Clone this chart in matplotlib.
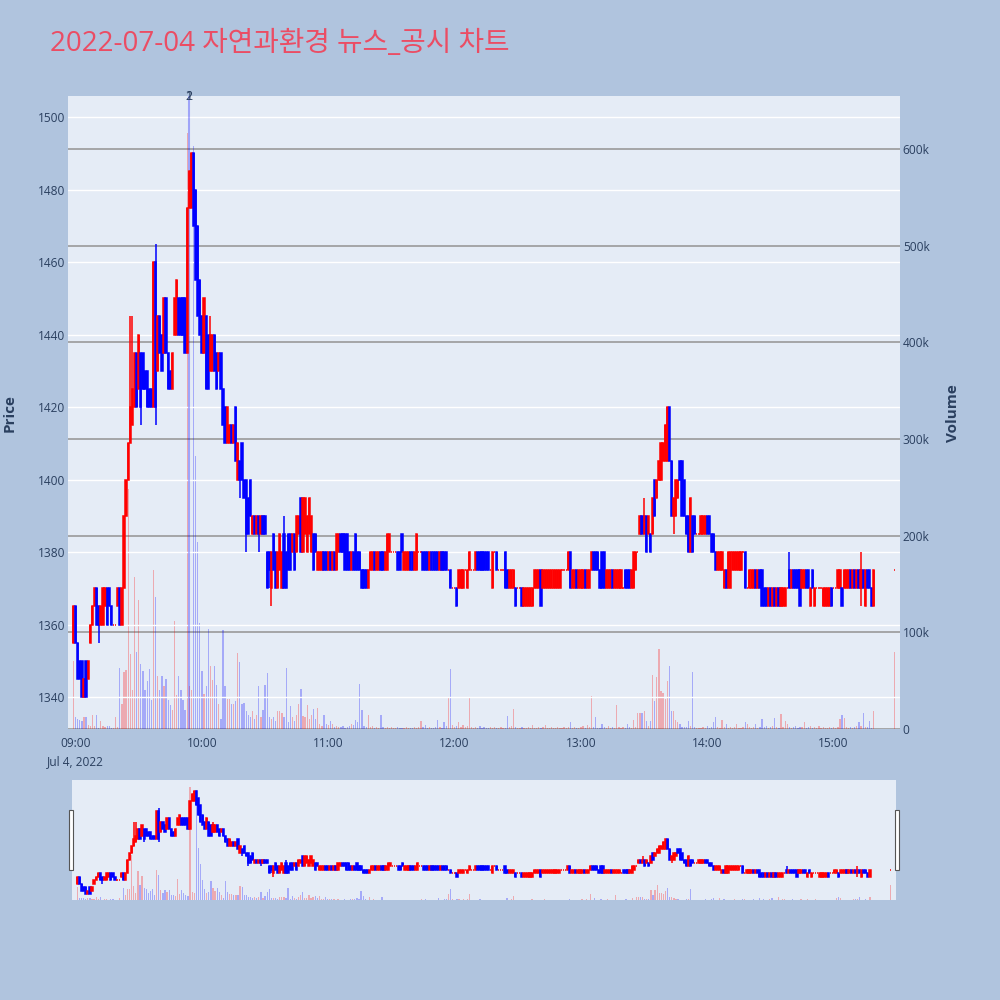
import matplotlib
matplotlib.use('Agg')
import matplotlib.pyplot as plt
from matplotlib.patches import Rectangle

plt.rcParams['font.family'] = ['Open Sans', 'Noto Sans CJK KR', 'DejaVu Sans']

BG = '#B0C4DE'
PLOT_BG = '#E5ECF6'
TXT = '#2a3f5f'
UP = '#FF0000'
DOWN = '#0000FF'

title = '2022-07-04 자연과환경 뉴스_공시 차트'

# 1-minute candles, first bar plotted at 08:59 (minute -1), last continuous bar 15:19
opens = [
    1355, 1365, 1355, 1350, 1350, 1340, 1350, 1345, 1355, 1360,  # 0
    1365, 1370, 1365, 1360, 1360, 1365, 1370, 1370, 1365, 1360,
    1360, 1365, 1370, 1360, 1370, 1390, 1400, 1410, 1415, 1420,
    1435, 1425, 1435, 1435, 1430, 1430, 1425, 1425, 1420, 1460,
    1430, 1445, 1440, 1435, 1450, 1435, 1430, 1425, 1440, 1440,
    1450, 1450, 1450, 1450, 1435, 1475, 1475, 1490, 1480, 1470,  # 50
    1455, 1445, 1435, 1445, 1440, 1430, 1430, 1440, 1435, 1430,
    1435, 1425, 1420, 1410, 1410, 1415, 1410, 1420, 1400, 1405,
    1410, 1400, 1400, 1395, 1400, 1385, 1390, 1385, 1390, 1385,
    1390, 1390, 1380, 1380, 1370, 1385, 1380, 1370, 1375, 1370,
    1385, 1380, 1385, 1385, 1380, 1385, 1380, 1385, 1395, 1380,  # 100
    1385, 1380, 1385, 1380, 1385, 1385, 1375, 1375, 1375, 1380,
    1380, 1375, 1380, 1375, 1380, 1375, 1380, 1385, 1385, 1385,
    1385, 1380, 1375, 1380, 1385, 1380, 1380, 1375, 1375, 1375,
    1370, 1375, 1375, 1380, 1375, 1375, 1380, 1380, 1375, 1375,
    1380, 1380, 1380, 1380, 1380, 1380, 1385, 1375, 1375, 1375,  # 150
    1380, 1380, 1375, 1375, 1380, 1380, 1380, 1380, 1380, 1375,
    1380, 1380, 1380, 1380, 1375, 1380, 1380, 1380, 1375, 1375,
    1370, 1370, 1370, 1370, 1370, 1370, 1375, 1370, 1375, 1375,
    1375, 1375, 1380, 1380, 1380, 1380, 1380, 1380, 1375, 1370,
    1380, 1380, 1375, 1375, 1375, 1380, 1375, 1370, 1370, 1370,  # 200
    1370, 1370, 1370, 1370, 1365, 1365, 1365, 1365, 1365, 1370,
    1370, 1370, 1375, 1370, 1370, 1370, 1370, 1370, 1370, 1370,
    1370, 1370, 1375, 1375, 1375, 1375, 1380, 1370, 1370, 1375,
    1370, 1370, 1370, 1375, 1370, 1370, 1375, 1380, 1380, 1380,
    1375, 1380, 1380, 1370, 1370, 1370, 1375, 1370, 1370, 1370,  # 250
    1370, 1370, 1375, 1375, 1375, 1370, 1370, 1375, 1380, 1385,
    1390, 1385, 1390, 1385, 1385, 1385, 1400, 1395, 1400, 1400,
    1405, 1405, 1405, 1420, 1405, 1390, 1390, 1395, 1405, 1405,
    1400, 1390, 1390, 1380, 1390, 1390, 1385, 1385, 1385, 1385,
    1385, 1390, 1390, 1385, 1385, 1380, 1375, 1375, 1375, 1370,  # 300
    1375, 1370, 1370, 1375, 1375, 1375, 1375, 1375, 1380, 1380,
    1370, 1370, 1370, 1370, 1375, 1370, 1375, 1375, 1370, 1370,
    1365, 1370, 1365, 1370, 1365, 1370, 1365, 1365, 1365, 1370,
    1375, 1370, 1375, 1375, 1375, 1375, 1370, 1370, 1375, 1375,
    1365, 1375, 1365, 1370, 1370, 1370, 1365, 1365, 1365, 1365,  # 350
    1370, 1370, 1370, 1370, 1370, 1370, 1370, 1370, 1370, 1375,
    1370, 1375, 1370, 1375, 1370, 1375, 1365, 1375, 1375, 1370, 1365,
]
closes = [
    1365, 1355, 1345, 1345, 1340, 1345, 1340, 1350, 1360, 1365,  # 0
    1370, 1360, 1360, 1365, 1370, 1370, 1360, 1365, 1360, 1360,
    1360, 1370, 1360, 1370, 1390, 1400, 1410, 1420, 1425, 1435,
    1420, 1440, 1420, 1425, 1425, 1420, 1420, 1420, 1460, 1420,
    1445, 1435, 1430, 1450, 1435, 1425, 1425, 1435, 1450, 1455,
    1440, 1440, 1440, 1435, 1475, 1485, 1490, 1470, 1455, 1445,  # 50
    1440, 1435, 1450, 1425, 1425, 1440, 1440, 1430, 1425, 1435,
    1425, 1415, 1410, 1420, 1415, 1410, 1415, 1405, 1410, 1400,
    1400, 1395, 1385, 1385, 1390, 1390, 1385, 1390, 1385, 1390,
    1385, 1385, 1370, 1375, 1380, 1375, 1370, 1380, 1385, 1380,
    1370, 1370, 1375, 1375, 1385, 1375, 1390, 1390, 1380, 1395,  # 100
    1395, 1390, 1395, 1390, 1375, 1380, 1380, 1380, 1380, 1375,
    1375, 1380, 1375, 1380, 1375, 1385, 1385, 1380, 1380, 1375,
    1375, 1375, 1380, 1375, 1375, 1375, 1375, 1370, 1370, 1370,
    1375, 1380, 1380, 1375, 1380, 1380, 1375, 1375, 1380, 1385,
    1385, 1380, 1380, 1380, 1375, 1375, 1380, 1380, 1380, 1380,  # 150
    1375, 1375, 1380, 1385, 1380, 1380, 1375, 1375, 1375, 1380,
    1375, 1375, 1375, 1375, 1380, 1375, 1375, 1375, 1375, 1370,
    1370, 1370, 1365, 1375, 1375, 1375, 1375, 1375, 1380, 1375,
    1375, 1380, 1375, 1375, 1375, 1375, 1375, 1375, 1375, 1380,
    1380, 1375, 1375, 1375, 1375, 1370, 1370, 1375, 1375, 1375,  # 200
    1365, 1370, 1370, 1365, 1370, 1370, 1370, 1370, 1370, 1375,
    1375, 1375, 1365, 1375, 1375, 1375, 1375, 1375, 1375, 1375,
    1375, 1375, 1375, 1375, 1375, 1380, 1370, 1375, 1375, 1370,
    1375, 1375, 1375, 1370, 1375, 1375, 1380, 1375, 1375, 1375,
    1370, 1370, 1370, 1375, 1375, 1375, 1370, 1375, 1375, 1375,  # 250
    1375, 1370, 1370, 1370, 1370, 1375, 1380, 1380, 1380, 1390,
    1385, 1390, 1380, 1390, 1380, 1395, 1390, 1400, 1405, 1410,
    1410, 1415, 1420, 1405, 1390, 1395, 1400, 1400, 1400, 1390,
    1390, 1385, 1380, 1395, 1380, 1385, 1385, 1385, 1390, 1390,
    1390, 1385, 1385, 1380, 1380, 1375, 1380, 1380, 1380, 1375,  # 300
    1370, 1380, 1380, 1380, 1380, 1380, 1380, 1380, 1380, 1370,
    1370, 1375, 1375, 1375, 1370, 1375, 1370, 1365, 1365, 1365,
    1370, 1365, 1370, 1365, 1370, 1365, 1370, 1370, 1370, 1370,
    1370, 1375, 1370, 1370, 1370, 1365, 1375, 1375, 1370, 1370,
    1370, 1370, 1370, 1370, 1370, 1370, 1370, 1370, 1370, 1370,  # 350
    1365, 1370, 1370, 1375, 1375, 1365, 1375, 1375, 1375, 1370,
    1375, 1370, 1375, 1370, 1375, 1370, 1375, 1370, 1370, 1365, 1375,
]
# wicks beyond the body
wick_high = {27: 1445, 28: 1445, 39: 1465, 65: 1445, 100: 1390, 271: 1395,
             340: 1380, 374: 1380}
wick_low = {12: 1355, 32: 1415, 39: 1415, 79: 1395, 82: 1380, 88: 1380,
            93: 1370, 94: 1365, 285: 1385, 345: 1365, 374: 1365}

# volume per minute, thousands of shares
volumes_k = [
    70, 12, 10, 9, 8, 12, 12, 4, 3, 14, 3, 14, 1, 8, 3, 2, 3, 3, 1, 1,
    12, 2, 63, 26, 59, 61, 248, 78, 40, 157, 80, 133, 67, 60, 40, 50, 62, 30, 165, 137,
    55, 40, 55, 45, 52, 30, 25, 20, 112, 35, 55, 40, 30, 20, 617, 45, 40, 603, 283, 194,
    110, 60, 36, 45, 103, 65, 51, 65, 46, 26, 10, 102, 44, 31, 31, 26, 26, 29, 79, 69,
    26, 27, 19, 14, 12, 19, 10, 15, 44, 12, 20, 46, 58, 12, 10, 12, 8, 19, 19, 17,
    12, 63, 7, 24, 12, 8, 15, 26, 41, 13, 12, 25, 10, 15, 21, 10, 22, 5, 3, 15,
    5, 4, 8, 5, 2, 3, 2, 2, 3, 1, 2, 3, 5, 4, 9, 7, 47, 20, 3, 2,
    15, 2, 3, 1, 2, 1, 15, 2, 1, 2, 1, 2, 1, 1, 2, 1, 1, 1, 2, 1,
    1, 1, 2, 1, 2, 8, 2, 4, 1, 2, 1, 1, 2, 9, 2, 1, 7, 3, 33, 62,
    4, 2, 3, 7, 2, 4, 2, 3, 33, 2, 1, 2, 1, 3, 1, 2, 1, 1, 2, 1,
    2, 1, 1, 2, 1, 1, 13, 2, 3, 21, 2, 1, 1, 2, 1, 1, 2, 1, 4, 1,
    1, 2, 1, 2, 4, 1, 1, 2, 1, 1, 2, 1, 1, 2, 1, 2, 7, 1, 2, 1,
    1, 2, 3, 1, 4, 2, 34, 2, 12, 1, 1, 5, 2, 1, 3, 1, 2, 1, 25, 2,
    1, 2, 1, 5, 2, 1, 9, 2, 17, 17, 17, 19, 8, 3, 8, 56, 29, 54, 83, 39,
    37, 31, 50, 65, 19, 19, 9, 7, 5, 2, 2, 2, 8, 3, 59, 2, 1, 1, 1, 2,
    1, 3, 1, 2, 7, 12, 2, 1, 9, 2, 5, 1, 2, 1, 2, 5, 1, 1, 2, 7,
    5, 2, 1, 2, 5, 1, 2, 10, 2, 3, 1, 2, 3, 11, 2, 1, 16, 2, 8, 5,
    2, 1, 2, 3, 1, 2, 2, 7, 1, 2, 3, 1, 2, 1, 3, 1, 2, 1, 1, 2,
    1, 2, 1, 2, 10, 14, 11, 2, 1, 2, 1, 2, 3, 7, 3, 17, 2, 2, 8, 1, 19,
]
# closing auction bar (15:29 on the chart)
auction_price = 1375
auction_volume_k = 80

news_minute = 54
news_labels = ['1', '2']

tick_minutes = [0, 60, 120, 180, 240, 300, 360]
tick_labels = ['09:00\nJul 4, 2022', '10:00', '11:00', '12:00', '13:00', '14:00', '15:00']
price_ticks = [1340, 1360, 1380, 1400, 1420, 1440, 1460, 1480, 1500]
vol_ticks = [0, 100000, 200000, 300000, 400000, 500000, 600000]
vol_tick_labels = ['0', '100k', '200k', '300k', '400k', '500k', '600k']

# assemble
minutes = [i - 1 for i in range(len(opens))] + [389]
o_all = opens + [auction_price]
c_all = closes + [auction_price]
h_all = [max(o, c, wick_high.get(i, 0)) for i, (o, c) in enumerate(zip(o_all, c_all))]
l_all = [min(o, c, wick_low.get(i, 9999)) for i, (o, c) in enumerate(zip(o_all, c_all))]
v_all = [v * 1000 for v in volumes_k] + [auction_volume_k * 1000]
cols = [UP if c >= o else DOWN for o, c in zip(o_all, c_all)]
vcols = [(1, 0, 0, 0.28) if c == UP else (0, 0, 1, 0.28) for c in cols]

XLIM = (-3.6, 391.5)
PLIM = (1331.2, 1505.8)
VLIM = (0, 655000)


def draw(ax_v, ax_p):
    ax_v.bar(minutes, v_all, width=0.6, color=vcols, linewidth=0, zorder=2)
    ax_p.vlines(minutes, l_all, h_all, colors=cols, linewidth=1.1, zorder=3)
    bottoms = [min(o, c) for o, c in zip(o_all, c_all)]
    heights = [abs(c - o) for o, c in zip(o_all, c_all)]
    ax_p.bar(minutes, heights, bottom=bottoms, width=0.6, color=cols,
             edgecolor=cols, linewidth=1.1, zorder=3)
    ax_v.set_xlim(*XLIM)
    ax_v.set_ylim(*VLIM)
    ax_p.set_ylim(*PLIM)


fig = plt.figure(figsize=(10, 10), dpi=100, facecolor=BG)

# main chart
ax_v = fig.add_axes([0.068, 0.271, 0.832, 0.633])
ax_v.set_facecolor(PLOT_BG)
ax_p = ax_v.twinx()
ax_p.set_zorder(ax_v.get_zorder() + 1)
ax_p.patch.set_visible(False)
draw(ax_v, ax_p)

for a in (ax_v, ax_p):
    for s in a.spines.values():
        s.set_visible(False)

ax_v.set_axisbelow(True)
ax_v.yaxis.tick_right()
ax_v.set_yticks(vol_ticks)
ax_v.set_yticklabels(vol_tick_labels)
ax_v.grid(axis='y', color='#9a9a9a', linewidth=1.2)
ax_v.tick_params(axis='y', length=0, pad=2, labelsize=8.6, labelcolor=TXT)
ax_v.set_xticks(tick_minutes)
ax_v.set_xticklabels(tick_labels, linespacing=1.45)
ax_v.tick_params(axis='x', length=0, pad=6, labelsize=8.6, labelcolor=TXT)

ax_p.yaxis.tick_left()
ax_p.set_axisbelow(True)
ax_p.set_yticks(price_ticks)
ax_p.grid(axis='y', color='white', linewidth=1.0)
ax_p.tick_params(axis='y', length=0, pad=2, labelsize=8.6, labelcolor=TXT)

# news marker
ax_p.axvline(news_minute, color=(0, 0, 1, 0.3), linewidth=1.5, zorder=2.5)
for lab in news_labels:
    ax_p.annotate(lab, (news_minute, 1.0), xycoords=('data', 'axes fraction'),
                  ha='center', va='center', fontsize=9, color=TXT)

fig.text(0.050, 0.949, title, fontsize=20, color='#EB4D64', va='baseline', ha='left')
fig.text(0.010, 0.587, 'Price', rotation=90, fontsize=11, fontweight='bold',
         color=TXT, ha='center', va='center')
fig.text(0.953, 0.587, 'Volume', rotation=90, fontsize=11, fontweight='bold',
         color=TXT, ha='center', va='center')

# range slider
sv = fig.add_axes([0.072, 0.100, 0.824, 0.120])
sv.set_facecolor(PLOT_BG)
sp = sv.twinx()
sp.set_zorder(sv.get_zorder() + 1)
sp.patch.set_visible(False)
draw(sv, sp)
for a in (sv, sp):
    a.set_xticks([])
    a.set_yticks([])
    for s in a.spines.values():
        s.set_visible(False)

for hx in (0.0692, 0.8950):
    fig.add_artist(Rectangle((hx, 0.130), 0.0042, 0.060, transform=fig.transFigure,
                             facecolor='white', edgecolor='#555555', linewidth=0.8))

fig.savefig('out.png', dpi=100, facecolor=BG)
